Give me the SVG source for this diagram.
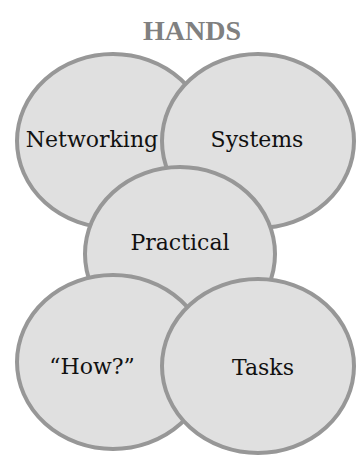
<svg xmlns="http://www.w3.org/2000/svg" width="360" height="455" viewBox="0 0 360 455">
<style>
.c{fill:#e0e0e0;stroke:#979797;stroke-width:4}
.t{font-family:"DejaVu Serif",serif;font-size:22px;fill:#111111;text-anchor:middle}
.title{font-family:"Liberation Serif",serif;font-weight:bold;font-size:28px;fill:#808080;text-anchor:middle}
</style>
<rect width="360" height="455" fill="#ffffff"/>
<text class="title" x="192" y="40">HANDS</text>
<g id="networking"><ellipse class="c" cx="113" cy="141" rx="96" ry="87"/><text class="t" x="92" y="147">Networking</text></g>
<g id="systems"><ellipse class="c" cx="258" cy="141" rx="96" ry="87"/><text class="t" x="257" y="147">Systems</text></g>
<g id="practical"><ellipse class="c" cx="180" cy="254" rx="95" ry="87"/><text class="t" x="180" y="250">Practical</text></g>
<g id="how"><ellipse class="c" cx="113" cy="362" rx="96" ry="87"/><text class="t" x="92" y="374">“How?”</text></g>
<g id="tasks"><ellipse class="c" cx="258" cy="366" rx="96" ry="87"/><text class="t" x="263" y="375">Tasks</text></g>
<g id="connectors"/>
</svg>
